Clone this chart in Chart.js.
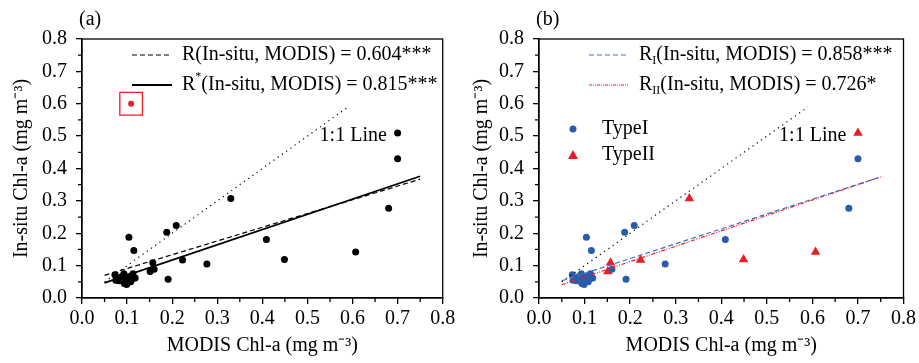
<!DOCTYPE html>
<html>
<head>
<meta charset="utf-8">
<script src="https://cdn.jsdelivr.net/npm/chart.js@4/dist/chart.umd.min.js"></script>
<style>
html, body { margin: 0; padding: 0; background: #fff; }
#wrap { position: relative; width: 919px; height: 363px; }
canvas { position: absolute; top: 0; }
#chartA { left: 0; }
#chartB { left: 460px; }
</style>
</head>
<body>
<div id="wrap">
    <canvas id="chartA" width="460" height="363"></canvas>
    <canvas id="chartB" width="459" height="363"></canvas>
</div>
<script>
// Type I stations (MODIS, in-situ)
const typeIX = [0.70, 0.68, 0.409, 0.277, 0.209, 0.188, 0.191, 0.160, 0.115, 0.104,
    0.073, 0.075, 0.082, 0.086, 0.093, 0.094, 0.097, 0.099, 0.104, 0.108, 0.111, 0.113, 0.090, 0.118];
const typeIY = [0.43, 0.277, 0.181, 0.105, 0.224, 0.203, 0.058, 0.089, 0.147, 0.188,
    0.072, 0.055, 0.053, 0.065, 0.075, 0.045, 0.060, 0.042, 0.066, 0.050, 0.058, 0.075, 0.068, 0.062];
// Type II stations
const typeIIX = [0.70, 0.607, 0.449, 0.330, 0.223, 0.157, 0.151, 0.101, 0.108];
const typeIIY = [0.51, 0.142, 0.119, 0.307, 0.117, 0.109, 0.082, 0.057, 0.067];
// outlier removed for R*
const outlierX = [0.109];
const outlierY = [0.60];

// fitted lines (end points)
const fitX = [0.05, 0.75];
const fitAllY = [0.070, 0.367];
const fitStarY = [0.047, 0.376];
const fitIY = [0.053, 0.374];
const fitIIY = [0.041, 0.374];
const oneToOneX = [0.05, 0.59];
const oneToOneY = [0.05, 0.59];

const xTicks = [0, 0.1, 0.2, 0.3, 0.4, 0.5, 0.6, 0.7, 0.8];
const yTicks = [0, 0.1, 0.2, 0.3, 0.4, 0.5, 0.6, 0.7, 0.8];

const FONT = '"Liberation Serif", "Times New Roman", serif';
const BLUE = '#2b5bab';
const RED = '#ec1c24';

function pts(xs, ys) {
    return xs.map((x, i) => ({x: x, y: ys[i]}));
}

function drawRich(ctx, x, y, parts) {
    parts.forEach(p => {
        ctx.font = p.size + 'px ' + FONT;
        ctx.fillText(p.t, x, y + (p.dy || 0));
        x += ctx.measureText(p.t).width;
    });
}

const panelDecor = {
    id: 'panelDecor',
    afterDraw(chart, args, opts) {
        const ctx = chart.ctx;
        const area = chart.chartArea;
        const xs = chart.scales.x;
        const ys = chart.scales.y;
        ctx.save();
        ctx.strokeStyle = '#000';
        ctx.fillStyle = '#000';
        ctx.lineWidth = 1.3;
        ctx.strokeRect(area.left, area.top, area.right - area.left, area.bottom - area.top);
        // minor ticks
        ctx.beginPath();
        for (let v = 0.05; v < 0.8; v += 0.1) {
            const px = xs.getPixelForValue(v);
            ctx.moveTo(px, area.bottom);
            ctx.lineTo(px, area.bottom + 4);
            const py = ys.getPixelForValue(v);
            ctx.moveTo(area.left, py);
            ctx.lineTo(area.left - 4, py);
        }
        ctx.stroke();

        ctx.textBaseline = 'middle';
        ctx.textAlign = 'left';
        ctx.font = '20px ' + FONT;
        ctx.fillText(opts.label, area.left - 3, 20);
        ctx.fillText('1:1 Line', xs.getPixelForValue(0.527), ys.getPixelForValue(0.50));

        opts.entries.forEach((e, i) => {
            const y = 55 + i * 30;
            ctx.strokeStyle = e.color;
            ctx.lineWidth = e.width;
            ctx.setLineDash(e.dash);
            ctx.beginPath();
            ctx.moveTo(area.left + 50, y);
            ctx.lineTo(area.left + 90, y);
            ctx.stroke();
            ctx.setLineDash([]);
            ctx.fillStyle = '#000';
            drawRich(ctx, area.left + 100, y, e.parts);
        });

        (opts.markers || []).forEach((m, i) => {
            const y = 129 + i * 26;
            const cx = area.left + 34;
            ctx.fillStyle = m.color;
            ctx.beginPath();
            if (m.shape === 'circle') {
                ctx.arc(cx, y, 3.5, 0, Math.PI * 2);
            } else {
                ctx.moveTo(cx, y - 5);
                ctx.lineTo(cx + 5, y + 4);
                ctx.lineTo(cx - 5, y + 4);
                ctx.closePath();
            }
            ctx.fill();
            ctx.fillStyle = '#000';
            ctx.font = '20px ' + FONT;
            ctx.fillText(m.text, area.left + 63, y);
        });
        ctx.restore();
    }
};

function lineSet(xs, ys, color, dash, width) {
    return {
        data: pts(xs, ys), showLine: true, pointRadius: 0, borderColor: color,
        borderDash: dash, borderWidth: width, fill: false
    };
}

function buildOptions(yWidth, padRight, decor) {
    return {
        responsive: false,
        animation: false,
        devicePixelRatio: 1,
        layout: {padding: {top: 39, right: padRight, left: 0, bottom: 0}},
        plugins: {legend: {display: false}, tooltip: {enabled: false}, panelDecor: decor},
        scales: {
            x: {
                type: 'linear', min: 0, max: 0.8,
                afterBuildTicks: s => { s.ticks = xTicks.map(v => ({value: v})); },
                afterFit: s => { s.height = 65; },
                ticks: {
                    color: '#000', padding: 3, maxRotation: 0, autoSkip: false,
                    font: {family: FONT, size: 20}, callback: v => v.toFixed(1)
                },
                grid: {display: true, drawOnChartArea: false, tickLength: 6, color: '#000', lineWidth: 1.3},
                border: {display: true, color: '#000', width: 1.3},
                title: {display: true, text: 'MODIS Chl-a (mg m\u207B\u00B3)', color: '#000',
                    font: {family: FONT, size: 20}, padding: {top: 0, bottom: 5}}
            },
            y: {
                type: 'linear', min: 0, max: 0.8,
                afterBuildTicks: s => { s.ticks = yTicks.map(v => ({value: v})); },
                afterFit: s => { s.width = yWidth; },
                ticks: {
                    color: '#000', padding: 9, autoSkip: false,
                    font: {family: FONT, size: 20}, callback: v => v.toFixed(1)
                },
                grid: {display: true, drawOnChartArea: false, tickLength: 6, color: '#000', lineWidth: 1.3},
                border: {display: true, color: '#000', width: 1.3},
                title: {display: true, text: 'In-situ Chl-a (mg m\u207B\u00B3)', color: '#000',
                    font: {family: FONT, size: 20}, padding: {top: 10, bottom: 0}}
            }
        }
    };
}

new Chart(document.getElementById('chartA'), {
    type: 'scatter',
    data: {
        datasets: [
            lineSet(oneToOneX, oneToOneY, '#000', [1.2, 4], 1.2),
            lineSet(fitX, fitAllY, '#000', [5, 3], 1.2),
            lineSet(fitX, fitStarY, '#000', [], 1.8),
            {data: pts(typeIX.concat(typeIIX), typeIY.concat(typeIIY)), pointRadius: 3.5,
                backgroundColor: '#000', borderColor: '#000', borderWidth: 0},
            {data: pts(outlierX, outlierY), pointRadius: 3, backgroundColor: RED, borderColor: RED, borderWidth: 0},
            {data: pts(outlierX, outlierY), pointStyle: 'rect', pointRadius: 16,
                backgroundColor: 'rgba(0,0,0,0)', borderColor: RED, borderWidth: 1.3}
        ]
    },
    options: buildOptions(82, 13, {
        label: '(a)',
        entries: [
            {color: '#000', dash: [5, 3], width: 1.2, parts: [{t: 'R(In-situ, MODIS) = 0.604***', size: 20}]},
            {color: '#000', dash: [], width: 1.8, parts: [
                {t: 'R', size: 20}, {t: '*', size: 12, dy: -8}, {t: '(In-situ, MODIS) = 0.815***', size: 20}]}
        ]
    }),
    plugins: [panelDecor]
});

new Chart(document.getElementById('chartB'), {
    type: 'scatter',
    data: {
        datasets: [
            lineSet(oneToOneX, oneToOneY, '#000', [1.2, 4], 1.2),
            lineSet(fitX, fitIY, '#3d6fc6', [5, 3], 1.2),
            lineSet(fitX, fitIIY, RED, [4, 1.5, 1, 1.5, 1, 1.5], 1.2),
            {data: pts(typeIX, typeIY), pointRadius: 3.5, backgroundColor: BLUE, borderColor: BLUE, borderWidth: 0},
            {data: pts(typeIIX, typeIIY), pointStyle: 'triangle', pointRadius: 5.5,
                backgroundColor: RED, borderColor: RED, borderWidth: 0}
        ]
    },
    options: buildOptions(79, 14, {
        label: '(b)',
        entries: [
            {color: '#3d6fc6', dash: [5, 3], width: 1.2, parts: [
                {t: 'R', size: 20}, {t: 'I', size: 12, dy: 6}, {t: '(In-situ, MODIS) = 0.858***', size: 20}]},
            {color: RED, dash: [3, 1, 1, 1, 1, 1], width: 1.2, parts: [
                {t: 'R', size: 20}, {t: 'II', size: 12, dy: 6}, {t: '(In-situ, MODIS) = 0.726*', size: 20}]}
        ],
        markers: [
            {shape: 'circle', color: BLUE, text: 'TypeI'},
            {shape: 'triangle', color: RED, text: 'TypeII'}
        ]
    }),
    plugins: [panelDecor]
});
</script>
</body>
</html>
